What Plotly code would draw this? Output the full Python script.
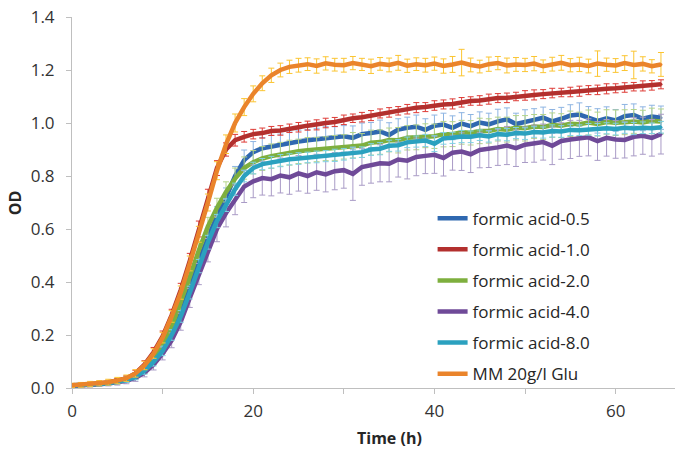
import plotly.graph_objects as go

TIME_H = [0, 1, 2, 3, 4, 5, 6, 7, 8, 9, 10, 11, 12, 13, 14, 15, 16, 17, 18, 19,
          20, 21, 22, 23, 24, 25, 26, 27, 28, 29, 30, 31, 32, 33, 34, 35, 36, 37, 38, 39,
          40, 41, 42, 43, 44, 45, 46, 47, 48, 49, 50, 51, 52, 53, 54, 55, 56, 57, 58, 59,
          60, 61, 62, 63, 64, 65]

FA05 = [0.010, 0.011, 0.013, 0.016, 0.020, 0.025, 0.032, 0.045, 0.070, 0.105,
        0.150, 0.210, 0.290, 0.380, 0.480, 0.570, 0.650, 0.720, 0.800, 0.860,
        0.890, 0.905, 0.912, 0.918, 0.925, 0.930, 0.935, 0.938, 0.942, 0.945,
        0.950, 0.944, 0.958, 0.962, 0.968, 0.955, 0.975, 0.982, 0.986, 0.974,
        0.990, 0.994, 0.982, 0.998, 0.988, 1.002, 0.995, 1.006, 1.014, 0.996,
        1.006, 1.012, 1.020, 1.006, 1.016, 1.028, 1.032, 1.020, 1.008, 1.018,
        1.010, 1.026, 1.030, 1.016, 1.024, 1.020]
FA05_ERR = [0.006, 0.007, 0.007, 0.008, 0.008, 0.009, 0.010, 0.012, 0.015, 0.018,
            0.020, 0.022, 0.025, 0.027, 0.030, 0.032, 0.034, 0.035, 0.036, 0.038,
            0.040, 0.040, 0.042, 0.040, 0.041, 0.043, 0.040, 0.042, 0.044, 0.041,
            0.040, 0.045, 0.042, 0.040, 0.043, 0.046, 0.041, 0.040, 0.044, 0.042,
            0.040, 0.043, 0.045, 0.041, 0.044, 0.040, 0.042, 0.046, 0.043, 0.041,
            0.044, 0.042, 0.040, 0.045, 0.043, 0.041, 0.044, 0.042, 0.046, 0.043,
            0.041, 0.044, 0.042, 0.045, 0.043, 0.044]

FA10 = [0.008, 0.010, 0.013, 0.017, 0.021, 0.027, 0.036, 0.055, 0.088, 0.135,
        0.195, 0.275, 0.370, 0.480, 0.600, 0.720, 0.830, 0.900, 0.935, 0.948,
        0.958, 0.962, 0.970, 0.972, 0.980, 0.984, 0.990, 0.993, 1.000, 1.004,
        1.012, 1.018, 1.022, 1.028, 1.036, 1.040, 1.046, 1.052, 1.058, 1.060,
        1.066, 1.070, 1.072, 1.078, 1.083, 1.085, 1.090, 1.094, 1.095, 1.100,
        1.104, 1.106, 1.109, 1.113, 1.115, 1.117, 1.120, 1.124, 1.125, 1.129,
        1.131, 1.134, 1.137, 1.140, 1.142, 1.146]
FA10_ERR = [0.006, 0.006, 0.007, 0.007, 0.008, 0.009, 0.010, 0.012, 0.015, 0.018,
            0.020, 0.022, 0.025, 0.028, 0.030, 0.030, 0.028, 0.025, 0.022, 0.020,
            0.018, 0.019, 0.017, 0.018, 0.016, 0.018, 0.017, 0.019, 0.018, 0.017,
            0.018, 0.016, 0.018, 0.019, 0.017, 0.018, 0.016, 0.018, 0.019, 0.017,
            0.018, 0.017, 0.019, 0.018, 0.016, 0.018, 0.019, 0.017, 0.018, 0.016,
            0.018, 0.019, 0.017, 0.018, 0.016, 0.018, 0.019, 0.017, 0.018, 0.019,
            0.017, 0.018, 0.016, 0.019, 0.018, 0.017]

FA20 = [0.008, 0.010, 0.012, 0.015, 0.019, 0.024, 0.031, 0.044, 0.070, 0.108,
        0.160, 0.230, 0.320, 0.420, 0.520, 0.610, 0.680, 0.740, 0.790, 0.830,
        0.852, 0.866, 0.875, 0.882, 0.888, 0.893, 0.897, 0.900, 0.903, 0.906,
        0.910, 0.916, 0.915, 0.926, 0.928, 0.936, 0.935, 0.944, 0.946, 0.952,
        0.950, 0.958, 0.958, 0.965, 0.963, 0.970, 0.970, 0.977, 0.975, 0.982,
        0.980, 0.987, 0.985, 0.992, 0.990, 0.997, 0.995, 1.002, 0.996, 1.004,
        1.001, 1.003, 1.006, 1.002, 1.008, 1.006]
FA20_ERR = [0.006, 0.006, 0.007, 0.007, 0.008, 0.009, 0.010, 0.012, 0.015, 0.018,
            0.022, 0.025, 0.028, 0.030, 0.032, 0.034, 0.036, 0.038, 0.040, 0.042,
            0.044, 0.045, 0.046, 0.045, 0.047, 0.046, 0.048, 0.046, 0.045, 0.047,
            0.046, 0.048, 0.045, 0.047, 0.046, 0.045, 0.048, 0.046, 0.047, 0.045,
            0.046, 0.048, 0.047, 0.045, 0.046, 0.048, 0.046, 0.045, 0.047, 0.046,
            0.048, 0.045, 0.047, 0.046, 0.045, 0.048, 0.046, 0.047, 0.045, 0.046,
            0.048, 0.047, 0.045, 0.046, 0.048, 0.047]

FA40 = [0.008, 0.009, 0.011, 0.014, 0.017, 0.021, 0.027, 0.038, 0.058, 0.088,
        0.130, 0.180, 0.250, 0.340, 0.430, 0.520, 0.600, 0.660, 0.710, 0.760,
        0.780, 0.792, 0.788, 0.802, 0.795, 0.810, 0.800, 0.814, 0.806, 0.818,
        0.822, 0.808, 0.834, 0.840, 0.848, 0.846, 0.862, 0.858, 0.872, 0.876,
        0.880, 0.868, 0.888, 0.892, 0.882, 0.898, 0.902, 0.908, 0.915, 0.905,
        0.918, 0.922, 0.928, 0.914, 0.932, 0.938, 0.942, 0.946, 0.932, 0.944,
        0.938, 0.936, 0.948, 0.952, 0.944, 0.958]
FA40_ERR = [0.006, 0.007, 0.007, 0.008, 0.009, 0.010, 0.011, 0.013, 0.016, 0.020,
            0.024, 0.028, 0.032, 0.036, 0.040, 0.044, 0.048, 0.052, 0.056, 0.060,
            0.062, 0.064, 0.063, 0.066, 0.064, 0.067, 0.065, 0.068, 0.066, 0.070,
            0.068, 0.100, 0.069, 0.067, 0.070, 0.068, 0.066, 0.069, 0.071, 0.067,
            0.070, 0.068, 0.066, 0.071, 0.069, 0.067, 0.070, 0.068, 0.072, 0.069,
            0.067, 0.070, 0.068, 0.071, 0.069, 0.072, 0.068, 0.070, 0.073, 0.069,
            0.071, 0.068, 0.072, 0.070, 0.069, 0.075]

FA80 = [0.009, 0.010, 0.012, 0.015, 0.018, 0.023, 0.030, 0.042, 0.065, 0.098,
        0.140, 0.200, 0.270, 0.360, 0.460, 0.550, 0.630, 0.690, 0.750, 0.800,
        0.830, 0.845, 0.852, 0.858, 0.863, 0.866, 0.870, 0.872, 0.875, 0.878,
        0.882, 0.888, 0.890, 0.900, 0.903, 0.914, 0.916, 0.927, 0.930, 0.934,
        0.922, 0.942, 0.944, 0.949, 0.948, 0.954, 0.949, 0.958, 0.956, 0.962,
        0.960, 0.966, 0.964, 0.970, 0.968, 0.974, 0.973, 0.976, 0.975, 0.980,
        0.977, 0.982, 0.979, 0.982, 0.980, 0.984]
FA80_ERR = [0.005, 0.006, 0.006, 0.007, 0.007, 0.008, 0.009, 0.011, 0.013, 0.015,
            0.018, 0.020, 0.022, 0.024, 0.025, 0.026, 0.025, 0.024, 0.023, 0.022,
            0.022, 0.021, 0.022, 0.023, 0.021, 0.022, 0.020, 0.022, 0.021, 0.023,
            0.022, 0.021, 0.020, 0.022, 0.023, 0.021, 0.022, 0.020, 0.021, 0.023,
            0.030, 0.022, 0.021, 0.023, 0.022, 0.020, 0.021, 0.022, 0.023, 0.021,
            0.022, 0.020, 0.021, 0.023, 0.022, 0.021, 0.020, 0.022, 0.023, 0.021,
            0.022, 0.021, 0.023, 0.022, 0.020, 0.022]

MM = [0.010, 0.012, 0.015, 0.018, 0.022, 0.028, 0.037, 0.055, 0.085, 0.130,
      0.190, 0.270, 0.360, 0.470, 0.580, 0.700, 0.820, 0.920, 1.000, 1.060,
      1.110, 1.150, 1.180, 1.200, 1.212, 1.218, 1.222, 1.215, 1.225, 1.220,
      1.218, 1.226, 1.221, 1.214, 1.223, 1.219, 1.227, 1.216, 1.222, 1.218,
      1.224, 1.215, 1.221, 1.228, 1.219, 1.213, 1.222, 1.226, 1.217, 1.221,
      1.219, 1.224, 1.214, 1.222, 1.227, 1.218, 1.221, 1.215, 1.224, 1.220,
      1.217, 1.226, 1.219, 1.223, 1.214, 1.221]
MM_ERR = [0.008, 0.009, 0.010, 0.010, 0.011, 0.012, 0.012, 0.014, 0.016, 0.018,
          0.020, 0.022, 0.025, 0.028, 0.030, 0.032, 0.034, 0.035, 0.034, 0.032,
          0.030, 0.028, 0.027, 0.026, 0.025, 0.026, 0.024, 0.027, 0.025, 0.024,
          0.026, 0.025, 0.023, 0.027, 0.024, 0.026, 0.028, 0.025, 0.024, 0.026,
          0.025, 0.027, 0.030, 0.050, 0.026, 0.024, 0.027, 0.025, 0.028, 0.026,
          0.025, 0.027, 0.024, 0.026, 0.028, 0.025, 0.027, 0.026, 0.048, 0.025,
          0.026, 0.028, 0.052, 0.027, 0.025, 0.045]

SERIES = [
    ("formic acid-0.5", FA05, FA05_ERR, "#2F68B0", "#8DB4E2"),
    ("formic acid-1.0", FA10, FA10_ERR, "#B3302E", "#DE3B36"),
    ("formic acid-2.0", FA20, FA20_ERR, "#7EAF3E", "#B4D48A"),
    ("formic acid-4.0", FA40, FA40_ERR, "#6F4A98", "#A99BC6"),
    ("formic acid-8.0", FA80, FA80_ERR, "#2BA1BF", "#7FD1E3"),
    ("MM 20g/l Glu", MM, MM_ERR, "#EA842B", "#FBC531"),
]

FONT = "Open Sans"
fig = go.Figure()
for i, (name, vals, err, col, ecol) in enumerate(SERIES):
    fig.add_trace(go.Scatter(
        x=TIME_H, y=vals, name=name, mode="lines+markers",
        line=dict(color=col, width=4.5),
        marker=dict(color=col, size=3),
        error_y=dict(type="data", array=err, visible=True, color=ecol,
                     thickness=1, width=3),
        legendgroup="g%d" % i,
    ))

fig.update_layout(
    width=675, height=450,
    margin=dict(l=72, r=0, t=17, b=62),
    paper_bgcolor="white", plot_bgcolor="white",
    font=dict(family=FONT, size=17, color="#333333"),
    showlegend=True,
    legend=dict(x=0.598, y=0.505, xanchor="left", yanchor="top",
                bgcolor="rgba(0,0,0,0)", tracegroupgap=6,
                font=dict(family=FONT, size=17, color="#262626"),
                itemwidth=30, traceorder="grouped"),
    xaxis=dict(range=[0, 66.55], dtick=20, tick0=0, showgrid=False, zeroline=False,
               showline=True, linecolor="#BFBFBF", linewidth=1,
               ticks="outside", ticklen=5, tickcolor="#BFBFBF",
               minor=dict(dtick=10, ticks="outside", ticklen=5, tickcolor="#BFBFBF"),
               tickfont=dict(family=FONT, size=17, color="#333333"),
               ticklabelstandoff=3),
    yaxis=dict(range=[0, 1.4], dtick=0.2, tick0=0, tickformat=".1f", showgrid=False,
               zeroline=False, showline=True, linecolor="#BFBFBF", linewidth=1,
               ticks="outside", ticklen=5, tickcolor="#BFBFBF",
               tickfont=dict(family=FONT, size=17, color="#333333"),
               ticklabelstandoff=8),
    annotations=[
        dict(text="<b>Time (h)</b>", x=0.526, y=-0.135, xref="paper", yref="paper",
             xanchor="center", yanchor="middle", showarrow=False,
             font=dict(family=FONT, size=16, color="#262626")),
        dict(text="<b>OD</b>", x=-57 / 603, y=0.498, xref="paper", yref="paper",
             xanchor="center", yanchor="middle", showarrow=False, textangle=-90,
             font=dict(family=FONT, size=16, color="#262626")),
    ],
)
fig.write_html("out.html")
